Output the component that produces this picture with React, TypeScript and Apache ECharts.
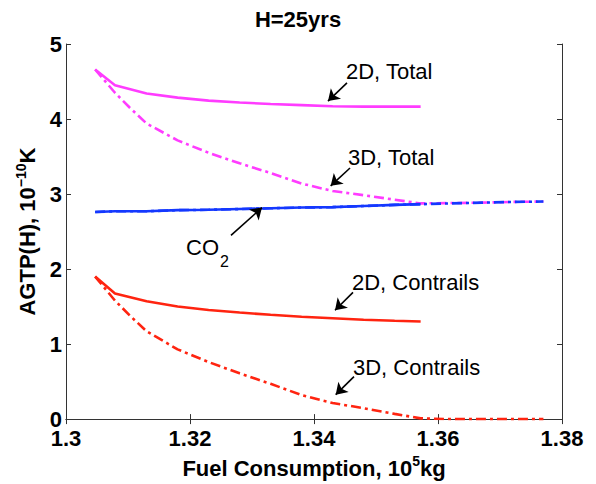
import React, { useEffect, useRef } from "react";
import * as echarts from "echarts";

const FONT = "Liberation Sans, Arial, Helvetica, sans-serif";

// Fuel consumption (10^5 kg)
const fuel2D = [1.3047, 1.3079, 1.313, 1.318, 1.323, 1.328, 1.333, 1.338, 1.343, 1.348, 1.353, 1.3572];
const fuel3D = [1.3047, 1.3079, 1.3103, 1.313, 1.318, 1.323, 1.328, 1.333, 1.338, 1.343, 1.348, 1.353, 1.3572, 1.362, 1.367, 1.372, 1.377];

// AGTP(H), 10^-10 K
const total2D = [4.66, 4.45, 4.34, 4.285, 4.245, 4.22, 4.2, 4.185, 4.17, 4.165, 4.165, 4.165];
const contrails2D = [1.9, 1.675, 1.57, 1.5, 1.455, 1.42, 1.39, 1.365, 1.345, 1.325, 1.31, 1.3];
const co22D = [2.76, 2.77, 2.77, 2.785, 2.79, 2.8, 2.81, 2.82, 2.825, 2.84, 2.855, 2.865];

const total3D = [4.66, 4.35, 4.15, 3.94, 3.715, 3.55, 3.41, 3.28, 3.14, 3.04, 2.985, 2.925, 2.875, 2.88, 2.885, 2.895, 2.9];
const contrails3D = [1.9, 1.58, 1.38, 1.17, 0.93, 0.76, 0.61, 0.47, 0.32, 0.215, 0.145, 0.07, 0.01, 0, 0, 0, 0];
const co23D = [2.76, 2.77, 2.77, 2.77, 2.785, 2.79, 2.8, 2.81, 2.82, 2.825, 2.84, 2.855, 2.865, 2.875, 2.885, 2.895, 2.9];

const xTicks = [1.3, 1.32, 1.34, 1.36, 1.38];
const yTicks = [0, 1, 2, 3, 4, 5];

// annotation arrows: [tailX, tailY, headX, headY] in data units
const arrows = [
  [1.34532, 4.482, 1.34226, 4.239],
  [1.34581, 3.347, 1.34269, 3.11],
  [1.32661, 2.45, 1.33161, 2.819],
  [1.34629, 1.689, 1.34339, 1.451],
  [1.34645, 0.567, 1.3435, 0.326],
];

const MAGENTA = "#ff3cff";
const RED = "#ff2410";
const BLUE = "#1438ff";
const DASHDOT = [10, 4, 3, 4];

const pair = (xs: number[], ys: number[]) => xs.map((x, i) => [x, ys[i]]);

export default function App() {
  const ref = useRef<HTMLDivElement>(null);
  useEffect(() => {
    if (!ref.current) return;
    const chart = echarts.init(ref.current, undefined, { renderer: "svg" });
    const axisLine = { show: true, lineStyle: { color: "#333", width: 1 } };
    const tick = { show: true, inside: true, length: 5, lineStyle: { color: "#333", width: 1 } };
    const labelStyle = { fontFamily: FONT, fontWeight: "bold", fontSize: 22, color: "#000" };
    const rich = {
      b: { fontFamily: FONT, fontWeight: "bold", fontSize: 22, color: "#000", lineHeight: 28 },
      s: { fontFamily: FONT, fontWeight: "bold", fontSize: 14, color: "#000", verticalAlign: "top", lineHeight: 14 },
    };
    const line = (name: string, xs: number[], ys: number[], color: string, dash: boolean, z: number) => ({
      name,
      type: "line",
      data: pair(xs, ys),
      symbol: "none",
      smooth: false,
      z,
      lineStyle: { color, width: 2.6, type: dash ? DASHDOT : "solid" },
    });
    chart.setOption({
      animation: false,
      backgroundColor: "#fff",
      title: {
        text: "H=25yrs",
        left: "center",
        top: 8,
        padding: 0,
        textStyle: { fontFamily: FONT, fontWeight: "bold", fontSize: 22, color: "#000" },
      },
      grid: { left: 66, right: 34, top: 44, bottom: 61 },
      xAxis: [
        {
          type: "value",
          min: xTicks[0],
          max: xTicks[xTicks.length - 1],
          interval: 0.02,
          position: "bottom",
          axisLine,
          axisTick: tick,
          splitLine: { show: false },
          axisLabel: { ...labelStyle, margin: 8, formatter: (v: number) => String(+v.toFixed(2)) },
          name: "{b|Fuel Consumption, 10}{s|5}{b|kg}",
          nameLocation: "middle",
          nameGap: 33,
          nameTextStyle: { rich },
        },
        {
          type: "value",
          min: xTicks[0],
          max: xTicks[xTicks.length - 1],
          interval: 0.02,
          position: "top",
          axisLine,
          axisTick: tick,
          splitLine: { show: false },
          axisLabel: { show: false },
        },
      ],
      yAxis: [
        {
          type: "value",
          min: yTicks[0],
          max: yTicks[yTicks.length - 1],
          interval: 1,
          position: "left",
          axisLine,
          axisTick: tick,
          splitLine: { show: false },
          axisLabel: { ...labelStyle, margin: 4 },
          name: "{b|AGTP(H), 10}{s|−10}{b|K}",
          nameLocation: "middle",
          nameGap: 22,
          nameTextStyle: { rich },
        },
        {
          type: "value",
          min: yTicks[0],
          max: yTicks[yTicks.length - 1],
          interval: 1,
          position: "right",
          axisLine,
          axisTick: tick,
          splitLine: { show: false },
          axisLabel: { show: false },
        },
      ],
      series: [
        {
          ...line("3D, Total", fuel3D, total3D, MAGENTA, true, 2),
          markLine: {
            silent: true,
            symbol: ["none", "arrow"],
            symbolSize: 11,
            label: { show: false },
            lineStyle: { color: "#000", width: 1.6, type: "solid" },
            data: arrows.map((a) => [{ coord: [a[0], a[1]] }, { coord: [a[2], a[3]] }]),
          },
        },
        line("3D, CO2", fuel3D, co23D, BLUE, true, 3),
        line("3D, Contrails", fuel3D, contrails3D, RED, true, 2),
        line("2D, Total", fuel2D, total2D, MAGENTA, false, 4),
        line("2D, CO2", fuel2D, co22D, BLUE, false, 4),
        line("2D, Contrails", fuel2D, contrails2D, RED, false, 4),
      ],
      graphic: [
        { type: "text", x: 346, y: 71, style: { text: "2D, Total", font: `22px ${FONT}`, fill: "#000", verticalAlign: "middle" } },
        { type: "text", x: 348, y: 157, style: { text: "3D, Total", font: `22px ${FONT}`, fill: "#000", verticalAlign: "middle" } },
        { type: "text", x: 186, y: 247, style: { text: "CO", font: `22px ${FONT}`, fill: "#000", verticalAlign: "middle" } },
        { type: "text", x: 220, y: 261, style: { text: "2", font: `16px ${FONT}`, fill: "#000", verticalAlign: "middle" } },
        { type: "text", x: 352, y: 282, style: { text: "2D, Contrails", font: `22px ${FONT}`, fill: "#000", verticalAlign: "middle" } },
        { type: "text", x: 353, y: 367, style: { text: "3D, Contrails", font: `22px ${FONT}`, fill: "#000", verticalAlign: "middle" } },
      ],
    });
    return () => chart.dispose();
  }, []);
  return <div ref={ref} style={{ position: "fixed", left: 0, top: 0, width: 596, height: 484 }} />;
}
